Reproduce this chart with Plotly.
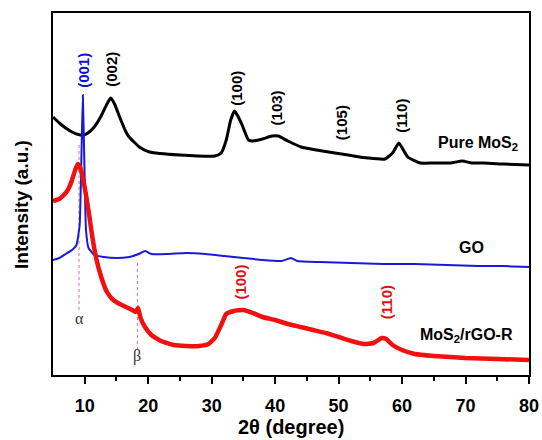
import plotly.graph_objects as go

# Pure MoS2 (black)
mos2_x = [5, 6, 7, 8, 9, 9.8, 10.5, 11.5, 12.5, 13.5, 14.1, 14.7, 15.5, 16.5, 17, 18.6, 20.2, 25, 30.5,
          31.5, 32.3, 33.0, 33.6, 34.2, 34.8, 35.8, 36.5, 38, 39.5, 40.5, 42, 44.1, 46.5, 49.4, 51.5,
          54.6, 57.3, 58.5, 59.5, 60.2, 60.9, 62.9, 65, 67.6, 69.5, 71, 72.9, 76, 80]
mos2_y = [258, 252, 247, 243, 240.5, 240, 242, 248, 258, 271, 277, 271, 258, 243, 238, 228, 223, 220, 219,
          222, 235, 255, 264, 258, 250, 235, 234, 236, 239, 239, 234, 228, 225, 222, 220,
          217, 216, 222, 232, 225, 218, 212, 212, 212, 214, 212, 212, 211, 210]

# GO (blue)
go_x = [5, 6, 7, 8, 8.7, 9.2, 9.5, 9.7, 9.9, 10.2, 10.6, 11.5, 13, 15, 17, 18.5, 19.5, 20.5, 23, 26,
        29, 32, 35, 38, 41, 42.5, 43.5, 47, 52, 57, 62, 67, 72, 76, 80]
go_y = [115, 117, 121, 125, 130, 150, 225, 280, 225, 145, 127, 120, 118, 117, 118, 121, 124, 121, 121, 122,
        121, 119, 117, 115, 114, 117, 114, 113, 112, 111, 111, 110, 109, 109, 108]

# MoS2/rGO-R (red)
rgo_x = [5, 6, 7, 7.5, 8, 8.5, 8.9, 9.3, 9.7, 10.2, 10.7, 11.2, 11.8, 12.5, 13.5, 14.5, 15.5, 16.5, 17.5,
         18.0, 18.4, 18.8, 19.5, 20.5, 22, 24, 26, 28, 29.5, 30.5, 31.5, 32.3, 33.5, 35, 36.5, 38, 40, 42,
         44, 46, 48, 50, 52, 54, 55.5, 56.8, 57.5, 58.5, 60, 62, 65, 70, 75, 80]
rgo_y = [174, 176, 182, 187, 195, 205, 211, 207, 197, 180, 160, 138, 117, 100, 83, 75, 71, 68, 65,
         63, 67, 57, 48, 40, 34, 30, 29, 29, 31, 37, 50, 61, 64, 65, 62, 58, 55, 51,
         48, 45, 42, 38, 34, 31, 32, 37, 36, 30, 25, 21, 19, 17, 16, 15]

# peak labels
peak_text = ["(001)", "(002)", "(100)", "(103)", "(105)", "(110)", "(100)", "(110)"]
peak_x = [9.7, 14.1, 33.8, 40.2, 50.4, 59.8, 34.4, 57.5]
peak_y = [305, 306, 287, 267, 252, 259, 93, 73]
peak_color = ["#1010d0", "black", "black", "black", "black", "black", "#e01010", "#e01010"]

series_names = ["Pure MoS<sub>2</sub>", "GO", "MoS<sub>2</sub>/rGO-R"]
series_lx = [71.9, 70.9, 70.1]
series_ly = [232, 128, 40]

marker_text = ["α", "β"]
marker_x = [9.1, 18.3]
marker_lbl_y = [57, 19]
marker_top = [230, 112]
marker_bot = [65, 25]

tick_vals = [10, 20, 30, 40, 50, 60, 70, 80]
minor_vals = [15, 25, 35, 45, 55, 65, 75]

SANS = "Liberation Sans, Arial, sans-serif"

fig = go.Figure()
fig.add_trace(go.Scatter(x=mos2_x, y=mos2_y, mode="lines", line=dict(color="black", width=3, shape="spline", smoothing=0.5)))
fig.add_trace(go.Scatter(x=go_x, y=go_y, mode="lines", line=dict(color="#1a1ad6", width=2, shape="spline", smoothing=0.4)))
fig.add_trace(go.Scatter(x=rgo_x, y=rgo_y, mode="lines", line=dict(color="#f01010", width=4.5, shape="spline", smoothing=0.4)))

for i in range(len(marker_x)):
    fig.add_shape(type="line", x0=marker_x[i], x1=marker_x[i], y0=marker_bot[i], y1=marker_top[i],
                  xref="x", yref="y", line=dict(color="#c070e0", width=1, dash="dot"), layer="below")
    fig.add_annotation(x=marker_x[i], y=marker_lbl_y[i], text=marker_text[i], showarrow=False,
                       font=dict(family="Liberation Serif, Times New Roman, serif", size=16, color="#333333"))

for t, x, y, c in zip(peak_text, peak_x, peak_y, peak_color):
    fig.add_annotation(x=x, y=y, text="<b>" + t + "</b>", showarrow=False, textangle=-90,
                       font=dict(family=SANS, size=15, color=c))

for t, x, y in zip(series_names, series_lx, series_ly):
    fig.add_annotation(x=x, y=y, text="<b>" + t + "</b>", showarrow=False,
                       font=dict(family=SANS, size=16, color="black"))

fig.add_annotation(x=-0.065, y=0.47, xref="paper", yref="paper", text="<b>Intensity (a.u.)</b>",
                   showarrow=False, textangle=-90, xanchor="center", yanchor="middle",
                   font=dict(family=SANS, size=19, color="black"))
fig.add_annotation(x=0.5, y=-0.145, xref="paper", yref="paper", text="<b>2θ (degree)</b>",
                   showarrow=False, xanchor="center", yanchor="middle",
                   font=dict(family=SANS, size=20, color="black"))

fig.update_layout(
    width=542, height=440,
    margin=dict(l=53, r=13, t=13, b=65, autoexpand=False),
    paper_bgcolor="white", plot_bgcolor="white",
    showlegend=False,
    font=dict(family=SANS, color="black"),
)
fig.update_xaxes(
    range=[5, 80], tickvals=tick_vals,
    ticktext=["<b>%d</b>" % v for v in tick_vals],
    ticks="outside", ticklen=7, tickwidth=2, tickcolor="black",
    minor=dict(tickvals=minor_vals, ticks="outside", ticklen=4, tickwidth=2, tickcolor="black"),
    showline=True, linecolor="black", linewidth=2, mirror=True,
    showgrid=False, zeroline=False, automargin=False,
    tickfont=dict(size=18, family=SANS, color="black"),
    ticklabelstandoff=6, ticklabeloverflow="allow",
)
fig.update_yaxes(
    range=[0, 362], showticklabels=False, ticks="",
    showline=True, linecolor="black", linewidth=2, mirror=True,
    showgrid=False, zeroline=False, automargin=False,
)

fig.write_html("out.html")
